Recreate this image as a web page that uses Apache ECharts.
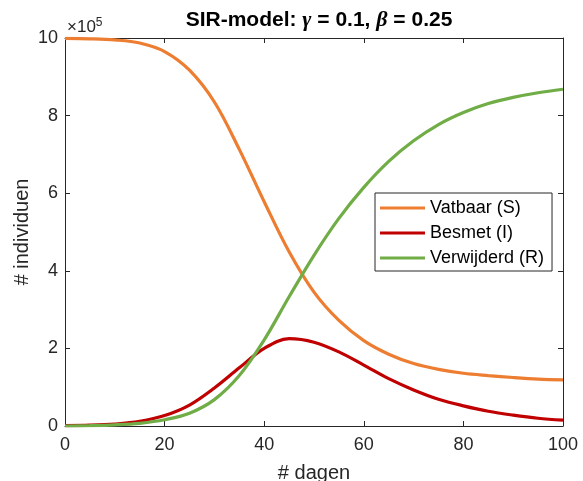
<!DOCTYPE html>
<html>
<head>
<meta charset="utf-8">
<script src="https://cdn.jsdelivr.net/npm/echarts@6/dist/echarts.min.js"></script>
<style>
  html, body { margin: 0; padding: 0; background: #fff; }
  #main { width: 583px; height: 481px; }
</style>
</head>
<body>
<div id="main"></div>
<script>
// aflezing uit de figuur, waarden in eenheden van 10^5 individuen
var dagen      = [0, 5, 10, 15, 20, 25, 30, 35, 40, 45, 50, 55, 60, 65, 70, 75, 80, 85, 90, 95, 100];
var vatbaar    = [9.99, 9.98, 9.95, 9.87, 9.65, 9.17, 8.35, 7.13, 5.78, 4.49, 3.45, 2.72, 2.20, 1.85, 1.61, 1.46, 1.36, 1.30, 1.25, 1.21, 1.19];
var besmet     = [0.01, 0.02, 0.05, 0.12, 0.27, 0.54, 0.98, 1.50, 2.00, 2.25, 2.16, 1.91, 1.57, 1.22, 0.93, 0.69, 0.52, 0.38, 0.28, 0.20, 0.15];
var verwijderd = [0.00, 0.01, 0.03, 0.07, 0.16, 0.33, 0.68, 1.30, 2.22, 3.33, 4.40, 5.35, 6.15, 6.82, 7.35, 7.77, 8.08, 8.31, 8.47, 8.59, 8.68];
var xTicks = [0, 20, 40, 60, 80, 100];
var yTicks = [0, 2, 4, 6, 8, 10];

var namen = ['Vatbaar (S)', 'Besmet (I)', 'Verwijderd (R)'];
var kleuren = ['#ED7D31', '#C00000', '#70AD47'];
var font = 'Liberation Sans, Arial, Helvetica, sans-serif';
var ink = '#262626';

function pairs(ys) {
  return dagen.map(function (d, i) { return [d, ys[i]]; });
}

var xBase = {
  type: 'value', min: xTicks[0], max: xTicks[xTicks.length - 1],
  interval: xTicks[1] - xTicks[0],
  axisLine: { show: true, onZero: false, lineStyle: { color: ink, width: 1 } },
  axisTick: { show: true, inside: true, length: 5, lineStyle: { color: ink } },
  splitLine: { show: false }
};
var yBase = {
  type: 'value', min: yTicks[0], max: yTicks[yTicks.length - 1],
  interval: yTicks[1] - yTicks[0],
  axisLine: { show: true, onZero: false, lineStyle: { color: ink, width: 1 } },
  axisTick: { show: true, inside: true, length: 5, lineStyle: { color: ink } },
  splitLine: { show: false }
};

var option = {
  animation: false,
  backgroundColor: '#fff',
  title: {
    text: '{b|SIR-model: }{g|γ}{b| = 0.1, }{g|β}{b| = 0.25}',
    left: 314, textAlign: 'center', top: 4,
    textStyle: {
      rich: {
        b: { fontFamily: font, fontWeight: 'bold', fontSize: 21, color: '#000' },
        g: { fontFamily: 'Liberation Serif, DejaVu Serif, serif', fontStyle: 'italic', fontSize: 22, color: '#000' }
      }
    }
  },
  grid: { left: 65, right: 20, top: 38, bottom: 55, containLabel: false },
  legend: {
    data: namen,
    orient: 'vertical',
    left: 375, top: 193,
    padding: [6, 8, 4, 5],
    itemGap: 7,
    itemWidth: 45, itemHeight: 3,
    icon: 'rect',
    backgroundColor: '#fff',
    borderColor: ink, borderWidth: 1,
    textStyle: { fontFamily: font, fontSize: 18, color: '#000', lineHeight: 17 }
  },
  xAxis: [
    Object.assign({}, xBase, {
      position: 'bottom',
      axisLabel: { fontFamily: font, fontSize: 18, color: ink, margin: 10 }
    }),
    Object.assign({}, xBase, { position: 'top', axisLabel: { show: false } })
  ],
  yAxis: [
    Object.assign({}, yBase, {
      position: 'left',
      axisLabel: { fontFamily: font, fontSize: 18, color: ink, margin: 7 }
    }),
    Object.assign({}, yBase, { position: 'right', axisLabel: { show: false } })
  ],
  graphic: [
    {
      type: 'text', left: 67, top: 17,
      style: {
        text: '{a|×10}{s|5}',
        rich: {
          a: { fontFamily: font, fontSize: 17, fill: ink },
          s: { fontFamily: font, fontSize: 12, fill: ink, verticalAlign: 'top', padding: [0, 0, 9, 0] }
        }
      }
    },
    {
      type: 'text', x: 314, y: 473,
      style: { text: '# dagen', fontFamily: font, fontSize: 20, fill: ink, align: 'center', verticalAlign: 'middle' }
    },
    {
      type: 'text', x: 22, y: 232, rotation: Math.PI / 2,
      style: { text: '# individuen', fontFamily: font, fontSize: 20, fill: ink, align: 'center', verticalAlign: 'middle' }
    }
  ],
  series: [vatbaar, besmet, verwijderd].map(function (ys, i) {
    return {
      name: namen[i],
      type: 'line',
      xAxisIndex: 0, yAxisIndex: 0,
      data: pairs(ys),
      smooth: 0.35,
      showSymbol: false,
      lineStyle: { color: kleuren[i], width: 3.2 },
      itemStyle: { color: kleuren[i] }
    };
  })
};

var myChart = echarts.init(document.getElementById('main'));
myChart.setOption(option);
</script>
</body>
</html>
